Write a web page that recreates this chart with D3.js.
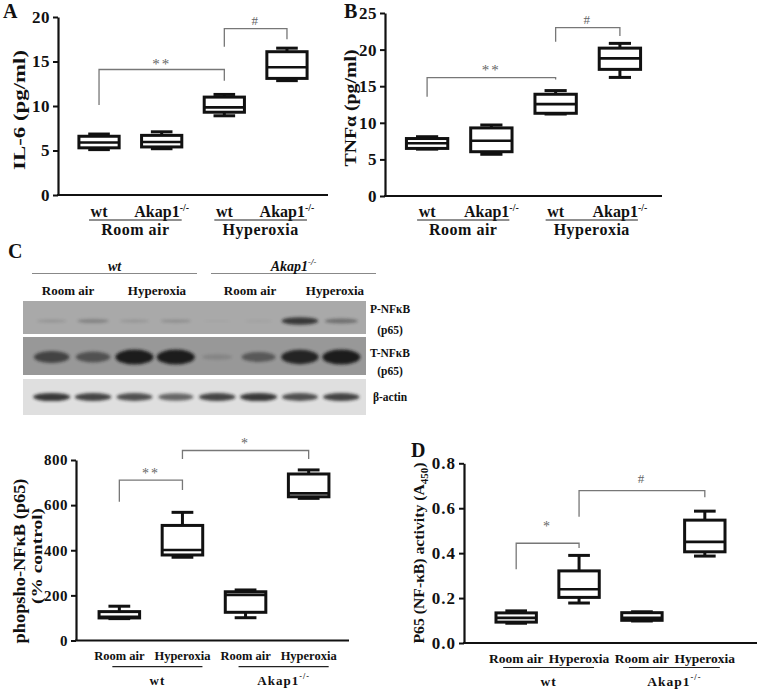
<!DOCTYPE html>
<html>
<head>
<meta charset="utf-8">
<script src="https://cdn.jsdelivr.net/npm/d3@7"></script>
<style>
  body { margin: 0; background: #fff; }
  svg text { font-family: "Liberation Serif", "Times New Roman", serif; font-weight: bold; fill: #111; }
</style>
</head>
<body>
<svg id="fig" width="758" height="692"></svg>
<script>
// ---- data (box stats are [min, q1, median, q3, max]) ----
const catsAB = ["wt|Room air", "Akap1|Room air", "wt|Hyperoxia", "Akap1|Hyperoxia"];
const catsCD = ["wt|Room air", "wt|Hyperoxia", "Akap1|Room air", "Akap1|Hyperoxia"];

const il6Stats = [[5.1, 5.3, 5.9, 6.6, 6.85], [5.2, 5.4, 5.95, 6.7, 7.1], [8.9, 9.3, 9.85, 11.0, 11.3], [12.85, 13.1, 14.35, 16.1, 16.5]];
const tnfStats = [[6.4, 6.5, 7.2, 7.85, 8.1], [5.7, 6.05, 7.55, 9.3, 9.7], [11.2, 11.3, 12.55, 13.9, 14.4], [16.2, 17.3, 18.8, 20.2, 20.85]];
const phosStats = [[97, 100, 105, 128, 152], [369, 379, 401, 510, 568], [101, 125, 202, 216, 224], [630, 637, 652, 738, 756]];
const p65Stats = [[0.088, 0.093, 0.112, 0.134, 0.143], [0.178, 0.203, 0.239, 0.321, 0.39], [0.098, 0.101, 0.112, 0.135, 0.139], [0.387, 0.406, 0.45, 0.547, 0.587]];

const il6Ticks = [0, 5, 10, 15, 20];
const tnfTicks = [0, 5, 10, 15, 20, 25];
const phosTicks = [0, 200, 400, 600, 800];
const p65Ticks = [0, 0.2, 0.4, 0.6, 0.8];

// western blot: relative band intensity per lane
const lanes = ["wt RA 1", "wt RA 2", "wt HX 1", "wt HX 2", "Akap1 RA 1", "Akap1 RA 2", "Akap1 HX 1", "Akap1 HX 2"];
const pNfkbBand = [0.2, 0.35, 0.18, 0.25, 0.0, 0.05, 0.85, 0.5];
const tNfkbBand = [0.75, 0.65, 1.0, 1.0, 0.2, 0.6, 0.95, 1.0];
const actinBand = [0.9, 0.85, 0.8, 0.7, 0.85, 0.9, 0.8, 0.85];
const blotHeaders = ["Room air", "Hyperoxia", "Room air", "Hyperoxia"];

const svg = d3.select("#fig");

function label(sel, txt) {
  sel.append("tspan").text(txt);
  if (txt === "Akap1") sel.append("tspan").attr("dy", -6).attr("font-size", "0.62em").text("-/-");
}

function boxPanel(cfg) {
  const g = svg.append("g");
  const x = d3.scaleBand().domain(cfg.cats).range(cfg.band).padding(0.31);
  const y = d3.scaleLinear().domain(cfg.domain).range(cfg.yRange);
  const bw = x.bandwidth();
  const cx = c => x(c) + bw / 2;

  const ax = g.append("g")
      .attr("transform", `translate(${cfg.axisX},0)`)
      .call(d3.axisLeft(y).tickValues(cfg.ticks).tickSize(5).tickSizeOuter(0).tickPadding(3)
        .tickFormat(cfg.fmt || d3.format("d")));
  ax.attr("font-family", null).attr("font-size", null);
  ax.select(".domain").attr("stroke", "#111").attr("stroke-width", 2.2);
  ax.selectAll(".tick line").attr("stroke", "#111").attr("stroke-width", 2);
  ax.selectAll(".tick text").attr("font-size", cfg.tickFont).style("letter-spacing", cfg.tickSpace + "px");

  g.append("line")
      .attr("x1", cfg.axisX - 1).attr("x2", cfg.axisEnd)
      .attr("y1", y(0)).attr("y2", y(0))
      .attr("stroke", "#111").attr("stroke-width", 2.2);

  // brackets
  cfg.brackets.forEach(b => {
    const xa = cx(cfg.cats[b.from]), xb = cx(cfg.cats[b.to]);
    g.append("path")
        .attr("d", `M${xa},${y(b.dropA)}V${y(b.top)}H${xb}V${y(b.dropB)}`)
        .attr("fill", "none").attr("stroke", "#777").attr("stroke-width", 1.3);
    g.append("text")
        .attr("x", (xa + xb) / 2).attr("y", y(b.top) + b.dy)
        .attr("text-anchor", "middle").attr("font-size", b.size)
        .style("font-weight", "normal").style("fill", "#666").style("letter-spacing", "2px")
        .text(b.label);
  });

  // boxes
  const box = g.selectAll(".box")
      .data(cfg.stats.map((s, i) => ({ key: cfg.cats[i], s })))
      .join("g")
      .attr("transform", d => `translate(${x(d.key)},0)`);
  const line = (sel) => sel.attr("stroke", "#111").attr("stroke-width", 3);
  box.append("line").call(line).attr("x1", bw / 2).attr("x2", bw / 2).attr("y1", d => y(d.s[3])).attr("y2", d => y(d.s[4]));
  box.append("line").call(line).attr("x1", bw / 2).attr("x2", bw / 2).attr("y1", d => y(d.s[1])).attr("y2", d => y(d.s[0]));
  box.append("line").call(line).attr("x1", bw * 0.25).attr("x2", bw * 0.75).attr("y1", d => y(d.s[4])).attr("y2", d => y(d.s[4]));
  box.append("line").call(line).attr("x1", bw * 0.25).attr("x2", bw * 0.75).attr("y1", d => y(d.s[0])).attr("y2", d => y(d.s[0]));
  box.append("rect").call(line)
      .attr("x", 1.5).attr("width", bw - 3)
      .attr("y", d => y(d.s[3])).attr("height", d => y(d.s[1]) - y(d.s[3]))
      .attr("fill", "#fff");
  box.append("line").attr("stroke", "#111").attr("stroke-width", 2.6)
      .attr("x1", 1.5).attr("x2", bw - 1.5).attr("y1", d => y(d.s[2])).attr("y2", d => y(d.s[2]));

  // category labels
  cfg.cats.forEach(c => {
    const t = g.append("text").attr("x", cx(c)).attr("y", cfg.catY)
        .attr("text-anchor", "middle").attr("font-size", cfg.catFont)
        .style("letter-spacing", cfg.catSpace + "px");
    label(t, c.split("|")[cfg.catPart]);
  });

  // group labels with lines
  [0, 2].forEach(i => {
    const x1 = cx(cfg.cats[i]) + cfg.ul[0], x2 = cx(cfg.cats[i + 1]) + cfg.ul[1];
    g.append("line").attr("x1", x1).attr("x2", x2).attr("y1", cfg.ulY).attr("y2", cfg.ulY)
        .attr("stroke", "#222").attr("stroke-width", 1.2);
    const t = g.append("text").attr("x", (x1 + x2) / 2).attr("y", cfg.grpY)
        .attr("text-anchor", "middle").attr("font-size", cfg.grpFont)
        .style("letter-spacing", cfg.grpSpace + "px");
    label(t, cfg.cats[i].split("|")[1 - cfg.catPart]);
  });

  // y title
  cfg.yTitle.forEach(yt => {
    const t = g.append("text")
        .attr("transform", `translate(${yt.x},${yt.y}) rotate(-90)`)
        .attr("text-anchor", "middle").attr("font-size", yt.size);
    if (yt.len) t.attr("textLength", yt.len).attr("lengthAdjust", "spacingAndGlyphs");
    yt.parts.forEach(p => {
      const s = t.append("tspan").text(p.t);
      if (p.sub) s.attr("dy", 4).attr("font-size", "0.7em");
      if (p.back) s.attr("dy", -4);
    });
  });

  svg.append("text").attr("x", cfg.letter[0]).attr("y", cfg.letter[1])
      .attr("font-size", 20).text(cfg.letter[2]);
}

boxPanel({
  cats: catsAB, catPart: 0, stats: il6Stats, domain: [0, 20], ticks: il6Ticks,
  axisX: 58, axisEnd: 328, band: [58, 328], yRange: [195, 17], tickFont: 17, tickSpace: 0.5,
  catY: 217, catFont: 16, catSpace: 0, ul: [-10, 20], ulY: 220, grpY: 235, grpFont: 16, grpSpace: 0.5,
  brackets: [
    { from: 0, to: 2, top: 14.1, dropA: 10.1, dropB: 12.85, label: "**", dy: -1, size: 15 },
    { from: 2, to: 3, top: 18.7, dropA: 16.65, dropB: 17.5, label: "#", dy: -4, size: 13 }
  ],
  yTitle: [{ x: 25, y: 110, size: 17, len: 120, parts: [{ t: "IL-6 (pg/ml)" }] }],
  letter: [3, 18, "A"]
});

boxPanel({
  cats: catsAB, catPart: 0, stats: tnfStats, domain: [0, 25], ticks: tnfTicks,
  axisX: 385, axisEnd: 662, band: [385, 662], yRange: [196, 13], tickFont: 17, tickSpace: 0.5,
  catY: 217, catFont: 16, catSpace: 0, ul: [-10, 18], ulY: 220, grpY: 235, grpFont: 16, grpSpace: 0.5,
  brackets: [
    { from: 0, to: 2, top: 16.16, dropA: 13.56, dropB: 15.9, label: "**", dy: -3, size: 15 },
    { from: 2, to: 3, top: 22.99, dropA: 21.08, dropB: 21.85, label: "#", dy: -4, size: 13 }
  ],
  yTitle: [{ x: 356, y: 108, size: 17, len: 117, parts: [{ t: "TNF\u03B1 (pg/ml)" }] }],
  letter: [344, 18, "B"]
});

boxPanel({
  cats: catsCD, catPart: 1, stats: phosStats, domain: [0, 800], ticks: phosTicks,
  axisX: 76, axisEnd: 349, band: [78, 350], yRange: [640.5, 460], tickFont: 15, tickSpace: 0.5,
  catY: 660, catFont: 12.5, catSpace: 0, ul: [-7, 20], ulY: 666.7, grpY: 685, grpFont: 13, grpSpace: 1,
  brackets: [
    { from: 0, to: 1, top: 711, dropA: 615, dropB: 667, label: "**", dy: -2, size: 14 },
    { from: 1, to: 3, top: 842, dropA: 804, dropB: 804, label: "*", dy: -3, size: 14 }
  ],
  yTitle: [
    { x: 25, y: 561, size: 17, len: 165, parts: [{ t: "phopsho-NF\u03BAB (p65)" }] },
    { x: 41.5, y: 556, size: 15, len: 96, parts: [{ t: "(% control)" }] }
  ],
  letter: [8, 258, "C"]
});

boxPanel({
  cats: catsCD, catPart: 1, stats: p65Stats, domain: [0, 0.8], ticks: p65Ticks, fmt: d3.format(".1f"),
  axisX: 464, axisEnd: 757, band: [475, 746], yRange: [643, 463.3], tickFont: 17, tickSpace: 1,
  catY: 663, catFont: 13.5, catSpace: 0, ul: [-13, 15], ulY: 667.5, grpY: 686, grpFont: 13.5, grpSpace: 1,
  brackets: [
    { from: 0, to: 1, top: 0.444, dropA: 0.328, dropB: 0.423, label: "*", dy: -12, size: 14 },
    { from: 1, to: 3, top: 0.678, dropA: 0.562, dropB: 0.649, label: "#", dy: -8, size: 13 }
  ],
  yTitle: [{ x: 424, y: 553, size: 15, len: 181,
    parts: [{ t: "P65 (NF-\u03BAB) activity (A" }, { t: "450", sub: true }, { t: ")", back: true }] }],
  letter: [411, 457, "D"]
});

// ---- western blot ----
const blot = svg.append("g");
const defs = svg.append("defs");
defs.append("filter").attr("id", "soft").attr("x", "-30%").attr("y", "-80%").attr("width", "160%").attr("height", "260%")
    .append("feGaussianBlur").attr("stdDeviation", 1.4);

const lane = d3.scaleBand().domain(lanes).range([31, 362]);
const rows = [
  { name: ["P-NF\u03BAB", "(p65)"], vals: pNfkbBand, y: 301, h: 33, bg: "#a9a9a9", cy: 321, hMin: 1.5, hAdd: 7, lab: [313, 334] },
  { name: ["T-NF\u03BAB", "(p65)"], vals: tNfkbBand, y: 337, h: 38, bg: "#989898", cy: 357, hMin: 3, hAdd: 12, lab: [357, 375] },
  { name: ["\u03B2-actin"], vals: actinBand, y: 379, h: 36, bg: "#dfdfdf", cy: 397, hMin: 5, hAdd: 3.5, lab: [401] }
];

rows.forEach(r => {
  blot.append("rect").attr("x", 23).attr("y", r.y).attr("width", 343).attr("height", r.h).attr("fill", r.bg);
  blot.append("g").selectAll("ellipse")
      .data(r.vals.map((v, i) => ({ lane: lanes[i], v })))
      .join("ellipse")
      .attr("cx", d => lane(d.lane) + lane.bandwidth() / 2)
      .attr("cy", r.cy)
      .attr("rx", d => lane.step() * (0.34 + 0.12 * d.v))
      .attr("ry", d => (r.hMin + r.hAdd * d.v) / 2)
      .attr("fill", "#161616")
      .attr("opacity", d => 0.05 + 0.9 * Math.pow(d.v, 1.4))
      .attr("filter", "url(#soft)");
  r.name.forEach((n, i) => {
    blot.append("text").attr("x", 390).attr("y", r.lab[i]).attr("text-anchor", "middle")
        .attr("font-size", 11.5).text(n);
  });
});

// strain headers with lines
[["wt", 32, 197], ["Akap1", 211, 376]].forEach(([s, x1, x2]) => {
  blot.append("line").attr("x1", x1).attr("x2", x2).attr("y1", 273.5).attr("y2", 273.5)
      .attr("stroke", "#888").attr("stroke-width", 1);
  const t = blot.append("text").attr("x", (x1 + x2) / 2).attr("y", 270.5)
      .attr("text-anchor", "middle").attr("font-size", 14).style("font-style", "italic");
  label(t, s);
});
const headerX = [68, 157, 250, 335];
blotHeaders.forEach((h, i) => {
  blot.append("text").attr("x", headerX[i]).attr("y", 295).attr("text-anchor", "middle")
      .attr("font-size", 13).text(h);
});
</script>
</body>
</html>
